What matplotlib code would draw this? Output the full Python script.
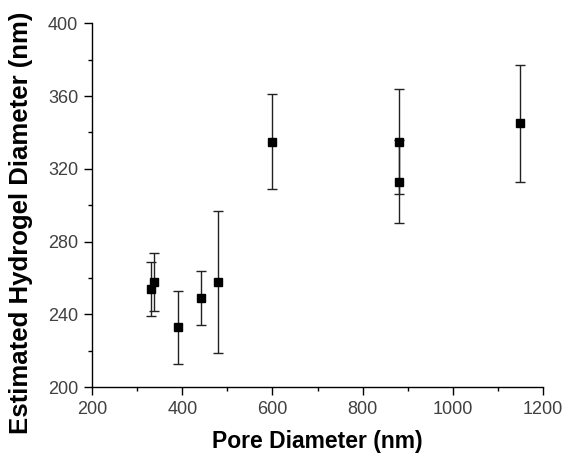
import numpy as np
from matplotlib import pyplot as plt
from matplotlib.ticker import MultipleLocator

plt.rcParams['font.family'] = ['Liberation Sans', 'DejaVu Sans']

# pore diameter (nm), hydrogel diameter (nm), error (nm)
pore = [331, 338, 390, 441, 480, 600, 880, 880, 1150]
hydrogel = [254, 258, 233, 249, 258, 335, 335, 313, 345]
err = [15, 16, 20, 15, 39, 26, 29, 23, 32]

fig = plt.figure(figsize=(5.65, 4.55), dpi=100)
ax = fig.add_axes([0.163, 0.149, 0.798, 0.8])

ax.errorbar(pore, hydrogel, yerr=err, fmt='s', color='black', ms=5.5,
            ecolor='#222222', elinewidth=1.0, capsize=3.5, capthick=1.0)

ax.set_xlim(200, 1200)
ax.set_ylim(200, 400)
ax.xaxis.set_major_locator(MultipleLocator(200))
ax.xaxis.set_minor_locator(MultipleLocator(100))
ax.yaxis.set_major_locator(MultipleLocator(40))
ax.yaxis.set_minor_locator(MultipleLocator(20))

for s in ['top', 'right']:
    ax.spines[s].set_visible(False)
for s in ['left', 'bottom']:
    ax.spines[s].set_linewidth(1.0)

ax.tick_params(which='major', direction='out', length=5.5, width=1.0,
               labelsize=13, labelcolor='#404040', pad=4.5)
ax.tick_params(which='minor', direction='out', length=3, width=1.0)

ax.set_xlabel('Pore Diameter (nm)', fontsize=16.5, fontweight='bold')
ax.set_ylabel('Estimated Hydrogel Diameter (nm)', fontsize=18.5, fontweight='bold')
ax.xaxis.set_label_coords(0.5, -0.118)
ax.yaxis.set_label_coords(-0.131, 0.453)

fig.savefig('out.png', dpi=100)
